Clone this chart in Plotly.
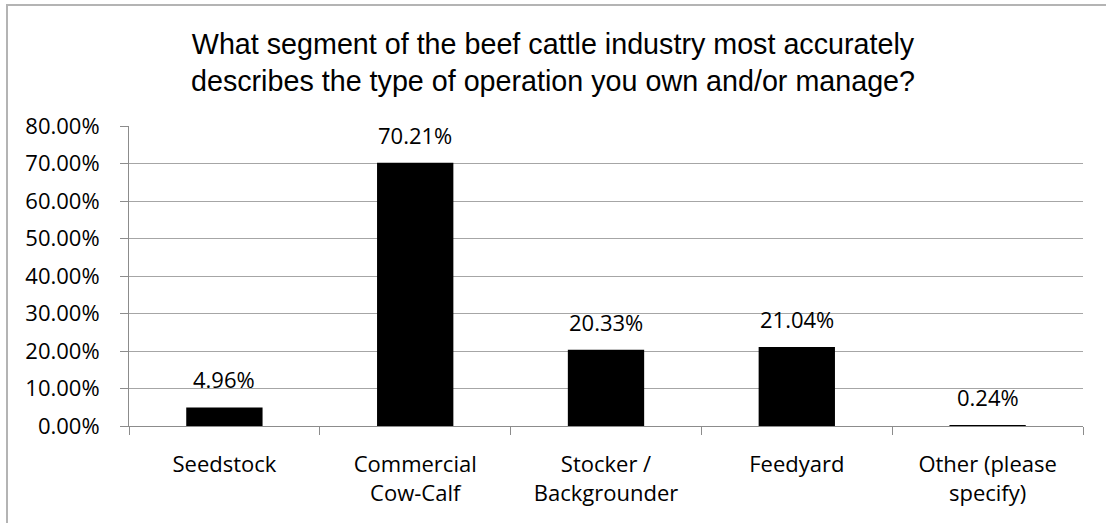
import plotly.graph_objects as go

# Survey responses: share of operations by beef cattle industry segment
categories = ["Seedstock", "Commercial<br>Cow-Calf", "Stocker /<br>Backgrounder",
              "Feedyard", "Other (please<br>specify)"]
shares = [4.96, 70.21, 20.33, 21.04, 0.24]
y_ticks = [0, 10, 20, 30, 40, 50, 60, 70, 80]

title_text = ("What segment of the beef cattle industry most accurately<br>"
              "describes the type of operation you own and/or manage?")

label_font = dict(family="Open Sans", size=22, color="#000000")
grid_grey = "#A6A6A6"
axis_grey = "#8C8C8C"

fig = go.Figure(
    go.Bar(
        x=categories,
        y=shares,
        marker=dict(color="#000000", line=dict(width=0)),
        hoverinfo="skip",
    )
)

# Value labels sitting just above each bar
for cat, val in zip(categories, shares):
    fig.add_annotation(
        x=cat, y=val, xref="x", yref="y",
        text=f"{val:.2f}%",
        showarrow=False, yanchor="bottom", yshift=11,
        font=label_font,
    )

# Light grey frame around the chart
fig.add_shape(
    type="rect", xref="paper", yref="paper",
    x0=(7 - 129) / 954, x1=1.2, y0=-0.6, y1=(426 - 5) / 300,
    line=dict(color="#B4B4B4", width=2), fillcolor="rgba(0,0,0,0)",
    layer="below",
)

fig.update_layout(
    width=1106, height=523,
    margin=dict(l=129, r=23, t=126, b=97),
    paper_bgcolor="white", plot_bgcolor="white",
    bargap=0.6,
    showlegend=False,
    title=dict(
        text=title_text,
        x=0.5, xanchor="center", xref="container",
        y=1 - 54 / 523, yanchor="top", yref="container",
        font=dict(family="Liberation Sans", size=28.7, color="#000000"),
    ),
    xaxis=dict(
        type="category",
        showline=True, linecolor=axis_grey, linewidth=1,
        ticks="outside", tickson="boundaries", ticklen=8,
        tickcolor=axis_grey, tickwidth=1,
        showgrid=False,
        tickfont=label_font,
        ticklabelstandoff=19,
    ),
    yaxis=dict(
        range=[0, 80],
        tickvals=y_ticks,
        ticktext=[f"{v:.2f}%" for v in y_ticks],
        showline=True, linecolor=axis_grey, linewidth=1,
        ticks="outside", ticklen=8, tickcolor=axis_grey, tickwidth=1,
        showgrid=True, gridcolor=grid_grey, gridwidth=1,
        zeroline=False,
        tickfont=label_font,
        ticklabelstandoff=16,
    ),
)

fig.write_html("out.html")
